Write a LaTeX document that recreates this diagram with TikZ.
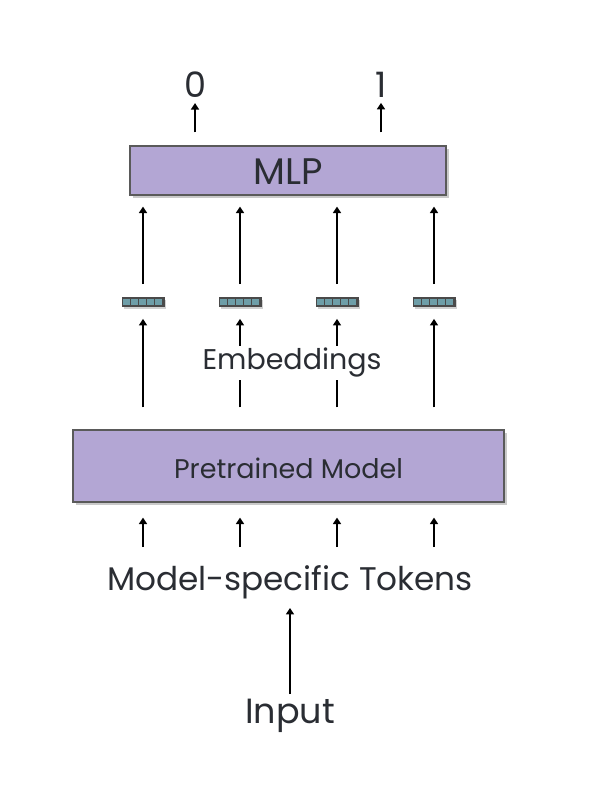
\documentclass[tikz,border=0pt]{standalone}
\usepackage{fontspec}
\setmainfont{Poppins}
\usetikzlibrary{arrows.meta,shadows,calc}
\definecolor{boxfill}{HTML}{B3A6D4}
\definecolor{boxline}{HTML}{5A5A5A}
\definecolor{cellfill}{HTML}{6E9EA8}
\definecolor{cellline}{HTML}{4A4A4A}
\definecolor{txt}{HTML}{2A2D33}
\tikzset{
  arr/.style={line width=2.4pt,-{Triangle[width=8pt,length=6.5pt]}},
  bigbox/.style={draw=boxline,line width=1.2pt,fill=boxfill,inner sep=0pt,
    drop shadow={shadow xshift=2.5pt,shadow yshift=-3pt,opacity=0.35,fill=black!60}},
  embbox/.style={draw=cellline,line width=0.8pt,fill=cellline,minimum width=42pt,minimum height=9pt,inner sep=0pt,
    drop shadow={shadow xshift=1.5pt,shadow yshift=-2.5pt,opacity=0.3,fill=black!60}},
  lbl/.style={text=txt,inner sep=1pt}
}
\begin{document}
\begin{tikzpicture}[x=1pt,y=-1pt]
\useasboundingbox (0,0) rectangle (600,799);
% MLP
\node[bigbox,minimum width=316pt,minimum height=49pt] (mlp) at (288,170.5) {};
\node[lbl,font=\fontsize{37}{42}\selectfont] (mlpt) at (288,172) {MLP};
% outputs
\node[lbl,font=\fontsize{35}{40}\selectfont] (out0) at (195,85) {0};
\node[lbl,font=\fontsize{35}{40}\selectfont] (out1) at (381,85) {1};
\draw[arr,shorten <=13pt,shorten >=4pt] (mlp.north -| out0) -- (out0.south);
\draw[arr,shorten <=13pt,shorten >=4pt] (mlp.north -| out1) -- (out1.south);
% Pretrained
\node[bigbox,minimum width=431pt,minimum height=72pt] (pm) at (288.5,466) {};
\node[lbl,font=\fontsize{27}{32}\selectfont] (pmt) at (288.5,468) {Pretrained Model};
% embeddings
\foreach \i/\x in {1/143,2/240,3/337,4/434}{
  \node[embbox] (emb\i) at (\x,302) {};
  \foreach \k in {0,...,4}{
    \fill[cellfill] ($(emb\i.west)+(1.4+\k*8.05,-3.4)$) rectangle ++(7.0,6.8);
  }
  \draw[arr,shorten <=13pt,shorten >=11pt] (emb\i.north) -- (emb\i.north |- mlp.south);
  \draw[arr,shorten <=22pt,shorten >=12pt] (emb\i.south |- pm.north) -- (emb\i.south);
  \coordinate (tk\i) at (\x,547);
  \draw[arr,shorten >=15pt] (tk\i) -- (tk\i |- pm.south);
}
\node[lbl,fill=white,inner sep=2pt,font=\fontsize{28.5}{33}\selectfont] (embt) at (292,363) {Embeddings};
% tokens and input
\node[lbl,font=\fontsize{32.7}{38}\selectfont] (tok) at (290,582) {Model-specific Tokens};
\node[lbl,font=\fontsize{35}{40}\selectfont] (inp) at (290,716) {Input};
\draw[arr,shorten <=4pt,shorten >=8pt] (inp.north) -- (tok.south);
\end{tikzpicture}
\end{document}
